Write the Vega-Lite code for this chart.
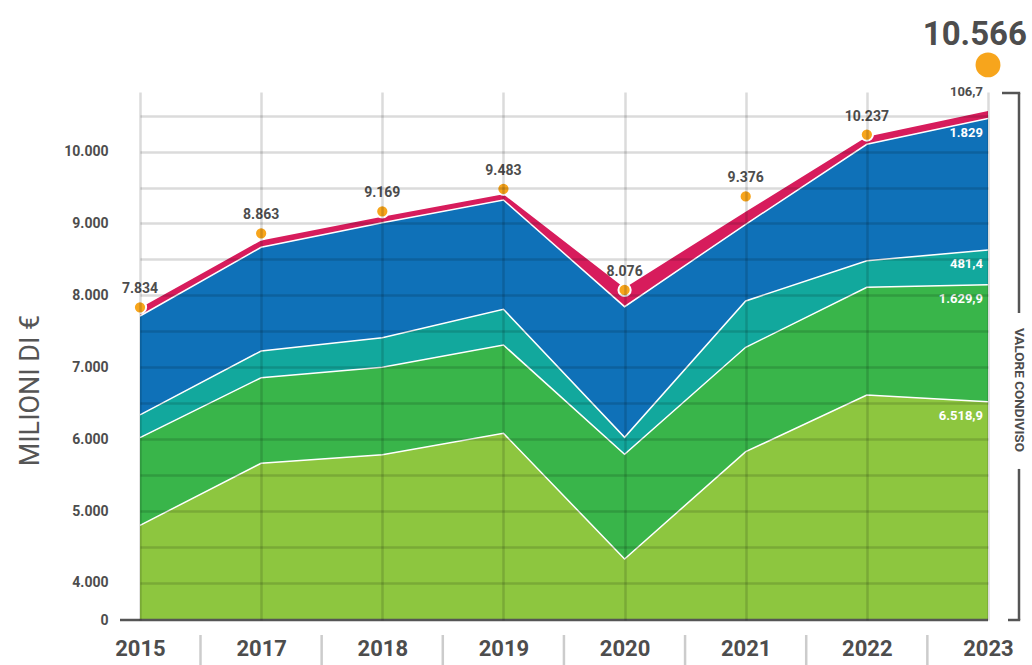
{
  "$schema": "https://vega.github.io/schema/vega-lite/v6.json",
  "width": 868,
  "height": 528,
  "autosize": {"type": "none"},
  "padding": {"left": 120, "top": 92, "right": 44, "bottom": 45},
  "background": "white",
  "config": {
    "view": {"stroke": null},
    "font": "Roboto, 'DejaVu Sans Condensed', sans-serif",
    "locale": {"number": {"decimal": ",", "thousands": ".", "grouping": [3], "currency": ["", " €"]}}
  },
  "resolve": {"axis": {"y": "independent"}},
  "datasets": {
    "componenti": [
      {"anno": "2015", "voce": "v1", "valore": 4802},
      {"anno": "2015", "voce": "v2", "valore": 1219},
      {"anno": "2015", "voce": "v3", "valore": 316},
      {"anno": "2015", "voce": "v4", "valore": 1376},
      {"anno": "2015", "voce": "v5", "valore": 112},
      {"anno": "2017", "voce": "v1", "valore": 5665},
      {"anno": "2017", "voce": "v2", "valore": 1190},
      {"anno": "2017", "voce": "v3", "valore": 372},
      {"anno": "2017", "voce": "v4", "valore": 1442},
      {"anno": "2017", "voce": "v5", "valore": 95},
      {"anno": "2018", "voce": "v1", "valore": 5784},
      {"anno": "2018", "voce": "v2", "valore": 1216},
      {"anno": "2018", "voce": "v3", "valore": 412},
      {"anno": "2018", "voce": "v4", "valore": 1599},
      {"anno": "2018", "voce": "v5", "valore": 84},
      {"anno": "2019", "voce": "v1", "valore": 6082},
      {"anno": "2019", "voce": "v2", "valore": 1228},
      {"anno": "2019", "voce": "v3", "valore": 497},
      {"anno": "2019", "voce": "v4", "valore": 1520},
      {"anno": "2019", "voce": "v5", "valore": 79},
      {"anno": "2020", "voce": "v1", "valore": 4334},
      {"anno": "2020", "voce": "v2", "valore": 1456},
      {"anno": "2020", "voce": "v3", "valore": 236},
      {"anno": "2020", "voce": "v4", "valore": 1817},
      {"anno": "2020", "voce": "v5", "valore": 260},
      {"anno": "2021", "voce": "v1", "valore": 5826},
      {"anno": "2021", "voce": "v2", "valore": 1452},
      {"anno": "2021", "voce": "v3", "valore": 644},
      {"anno": "2021", "voce": "v4", "valore": 1067},
      {"anno": "2021", "voce": "v5", "valore": 175},
      {"anno": "2022", "voce": "v1", "valore": 6615},
      {"anno": "2022", "voce": "v2", "valore": 1498},
      {"anno": "2022", "voce": "v3", "valore": 370},
      {"anno": "2022", "voce": "v4", "valore": 1619},
      {"anno": "2022", "voce": "v5", "valore": 105},
      {"anno": "2023", "voce": "v1", "valore": 6518.9},
      {"anno": "2023", "voce": "v2", "valore": 1629.9},
      {"anno": "2023", "voce": "v3", "valore": 481.4},
      {"anno": "2023", "voce": "v4", "valore": 1829},
      {"anno": "2023", "voce": "v5", "valore": 106.7}
    ],
    "totali": [
      {"anno": "2015", "totale": 7834},
      {"anno": "2017", "totale": 8863},
      {"anno": "2018", "totale": 9169},
      {"anno": "2019", "totale": 9483},
      {"anno": "2020", "totale": 8076},
      {"anno": "2021", "totale": 9376},
      {"anno": "2022", "totale": 10237},
      {"anno": "2023", "totale": 10566}
    ]
  },
  "layer": [
    {
      "data": {"name": "componenti"},
      "transform": [
        {"stack": "valore", "groupby": ["anno"], "sort": [{"field": "voce", "order": "ascending"}], "as": ["y0", "y1"]}
      ],
      "mark": {"type": "area", "clip": true, "interpolate": "linear", "opacity": 1},
      "encoding": {
        "x": {
          "field": "anno", "type": "ordinal",
          "scale": {"type": "point", "range": [20, 868], "padding": 0},
          "axis": {
            "title": null, "labelAngle": 0, "ticks": false, "domain": false,
            "labelPadding": 18, "labelFontSize": 22, "labelFontWeight": "bold", "labelColor": "#4d4d4d",
            "grid": true, "gridColor": "#000000", "gridOpacity": 0.14, "gridWidth": 2.5, "zindex": 1
          }
        },
        "y": {
          "field": "y1", "type": "quantitative",
          "scale": {"domain": [3485, 10829], "zero": false, "nice": false},
          "axis": {
            "orient": "left", "title": null,
            "values": [4000, 4500, 5000, 5500, 6000, 6500, 7000, 7500, 8000, 8500, 9000, 9500, 10000, 10500],
            "labels": false, "ticks": false, "domain": false,
            "grid": true, "gridColor": "#000000", "gridOpacity": 0.14, "gridWidth": 2.5, "zindex": 1
          }
        },
        "y2": {"field": "y0"},
        "color": {
          "field": "voce", "type": "nominal",
          "scale": {"domain": ["v1", "v2", "v3", "v4", "v5"], "range": ["#8dc63f", "#39b54a", "#12a89d", "#0f71b8", "#d71c5c"]},
          "legend": null
        }
      }
    },
    {
      "data": {"name": "componenti"},
      "transform": [
        {"stack": "valore", "groupby": ["anno"], "sort": [{"field": "voce", "order": "ascending"}], "as": ["y0", "y1"]},
        {"filter": "datum.voce != 'v5'"}
      ],
      "mark": {"type": "line", "color": "white", "strokeWidth": 1.5, "clip": true},
      "encoding": {
        "x": {"field": "anno", "type": "ordinal"},
        "y": {
          "field": "y1", "type": "quantitative",
          "axis": {
            "orient": "left", "title": "MILIONI DI €",
            "values": [3485, 4000, 5000, 6000, 7000, 8000, 9000, 10000],
            "format": ",.0f",
            "labelExpr": "datum.value < 3900 ? '0' : replace(datum.label, ',', '.')",
            "labelOverlap": false,
            "grid": false, "ticks": false, "domain": false, "labelPadding": 12,
            "labelFontSize": 14, "labelFontWeight": "bold", "labelColor": "#4d4d4d",
            "titleFontSize": 27, "titleFontWeight": "normal", "titleColor": "#555555",
            "titleAngle": -90, "titleX": -90, "titleY": 298, "titleAlign": "center", "titleBaseline": "middle"
          }
        },
        "detail": {"field": "voce", "type": "nominal"}
      }
    },
    {
      "data": {"name": "totali"},
      "transform": [{"filter": "datum.anno == '2023'"}],
      "mark": {"type": "rule", "color": "#555555", "strokeWidth": 2.5},
      "encoding": {"y": {"datum": 3485, "type": "quantitative", "axis": null}}
    },
    {
      "data": {"name": "totali"},
      "transform": [{"filter": "datum.anno != '2023'"}],
      "mark": {"type": "rule", "color": "#cccccc", "strokeWidth": 2.5, "xOffset": 60.5, "yOffset": 15, "y2Offset": 45},
      "encoding": {
        "x": {"field": "anno", "type": "ordinal"},
        "y": {"datum": 3485, "type": "quantitative", "axis": null},
        "y2": {"datum": 3485}
      }
    },
    {
      "data": {"name": "totali"},
      "transform": [{"filter": "datum.anno != '2023'"}],
      "mark": {"type": "circle", "size": 150, "color": "#f7a51c", "opacity": 1, "stroke": "white", "strokeWidth": 2},
      "encoding": {
        "x": {"field": "anno", "type": "ordinal"},
        "y": {"field": "totale", "type": "quantitative", "axis": null}
      }
    },
    {
      "data": {"name": "totali"},
      "transform": [{"filter": "datum.anno != '2023'"}],
      "mark": {"type": "text", "align": "center", "baseline": "alphabetic", "dy": -14, "fontSize": 14, "fontWeight": "bold", "color": "#4d4d4d"},
      "encoding": {
        "x": {"field": "anno", "type": "ordinal"},
        "y": {"field": "totale", "type": "quantitative", "axis": null},
        "text": {"field": "totale", "type": "quantitative", "format": ","}
      }
    },
    {
      "data": {"name": "totali"},
      "transform": [{"filter": "datum.anno == '2023'"}],
      "mark": {"type": "circle", "size": 620, "color": "#f7a51c", "opacity": 1, "yOffset": -46},
      "encoding": {
        "x": {"field": "anno", "type": "ordinal"},
        "y": {"field": "totale", "type": "quantitative", "axis": null}
      }
    },
    {
      "data": {"name": "totali"},
      "transform": [{"filter": "datum.anno == '2023'"}],
      "mark": {"type": "text", "align": "right", "baseline": "alphabetic", "dx": 39, "dy": -66, "fontSize": 33, "fontWeight": "bold", "color": "#4d4d4d"},
      "encoding": {
        "x": {"field": "anno", "type": "ordinal"},
        "y": {"field": "totale", "type": "quantitative", "axis": null},
        "text": {"field": "totale", "type": "quantitative", "format": ","}
      }
    },
    {
      "data": {"name": "componenti"},
      "transform": [
        {"stack": "valore", "groupby": ["anno"], "sort": [{"field": "voce", "order": "ascending"}], "as": ["y0", "y1"]},
        {"filter": "datum.anno == '2023' && datum.voce != 'v5'"}
      ],
      "mark": {"type": "text", "align": "right", "baseline": "middle", "dx": -5, "dy": 14, "fontSize": 13, "fontWeight": "bold", "color": "white"},
      "encoding": {
        "x": {"field": "anno", "type": "ordinal"},
        "y": {"field": "y1", "type": "quantitative", "axis": null},
        "text": {"field": "valore", "type": "quantitative", "format": ",.1~f"}
      }
    },
    {
      "data": {"name": "componenti"},
      "transform": [
        {"stack": "valore", "groupby": ["anno"], "sort": [{"field": "voce", "order": "ascending"}], "as": ["y0", "y1"]},
        {"filter": "datum.anno == '2023' && datum.voce == 'v5'"}
      ],
      "mark": {"type": "text", "align": "right", "baseline": "middle", "dx": -5, "dy": -19, "fontSize": 13, "fontWeight": "bold", "color": "#4d4d4d"},
      "encoding": {
        "x": {"field": "anno", "type": "ordinal"},
        "y": {"field": "y1", "type": "quantitative", "axis": null},
        "text": {"field": "valore", "type": "quantitative", "format": ",.1~f"}
      }
    },
    {
      "data": {"name": "totali"},
      "transform": [{"filter": "datum.anno == '2023'"}],
      "mark": {"type": "rule", "color": "#555555", "strokeWidth": 2.5, "xOffset": 31},
      "encoding": {
        "x": {"datum": "2023", "type": "ordinal"},
        "y": {"datum": 10815, "type": "quantitative", "axis": null},
        "y2": {"datum": 7755}
      }
    },
    {
      "data": {"name": "totali"},
      "transform": [{"filter": "datum.anno == '2023'"}],
      "mark": {"type": "rule", "color": "#555555", "strokeWidth": 2.5, "xOffset": 31},
      "encoding": {
        "x": {"datum": "2023", "type": "ordinal"},
        "y": {"datum": 5586, "type": "quantitative", "axis": null},
        "y2": {"datum": 3485}
      }
    },
    {
      "data": {"name": "totali"},
      "transform": [{"filter": "datum.anno == '2023'"}],
      "mark": {"type": "rule", "color": "#555555", "strokeWidth": 2.5, "xOffset": 14, "x2Offset": 32.2},
      "encoding": {
        "x": {"datum": "2023", "type": "ordinal"},
        "x2": {"datum": "2023"},
        "y": {"datum": 10815, "type": "quantitative", "axis": null}
      }
    },
    {
      "data": {"name": "totali"},
      "transform": [{"filter": "datum.anno == '2023'"}],
      "mark": {"type": "rule", "color": "#555555", "strokeWidth": 2.5, "xOffset": 20, "x2Offset": 32.2},
      "encoding": {
        "x": {"datum": "2023", "type": "ordinal"},
        "x2": {"datum": "2023"},
        "y": {"datum": 3485, "type": "quantitative", "axis": null}
      }
    },
    {
      "data": {"name": "totali"},
      "transform": [{"filter": "datum.anno == '2023'"}],
      "mark": {"type": "text", "angle": 90, "align": "center", "baseline": "middle", "xOffset": 31, "fontSize": 13.5, "fontWeight": "bold", "color": "#4d4d4d"},
      "encoding": {
        "x": {"datum": "2023", "type": "ordinal"},
        "y": {"datum": 6684, "type": "quantitative", "axis": null},
        "text": {"value": "VALORE CONDIVISO"}
      }
    }
  ]
}
